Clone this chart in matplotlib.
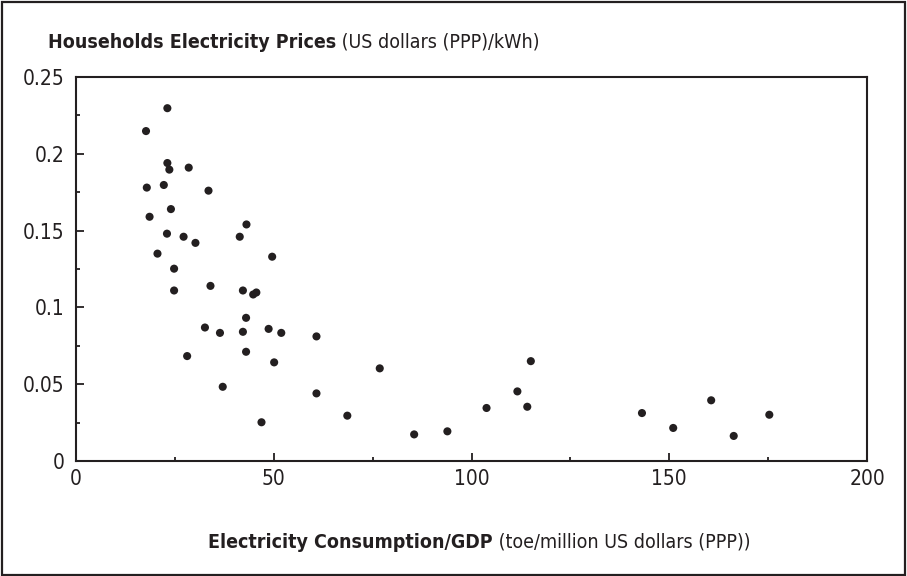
import matplotlib
matplotlib.use("Agg")
import matplotlib.pyplot as plt
from matplotlib.patches import Rectangle
from matplotlib.ticker import MultipleLocator

plt.rcParams['font.family'] = ['DejaVu Sans']
plt.rcParams['font.stretch'] = 'condensed'

# electricity consumption / GDP (toe per million US$ PPP)
consumption = [23.1, 17.7, 23.1, 23.6, 28.5, 17.9, 22.2, 33.5, 18.6, 24.0,
               43.1, 23.0, 27.2, 30.2, 41.4, 20.6, 49.6, 24.8, 24.8, 34.0,
               42.2, 44.8, 45.6, 32.6, 36.4, 42.2, 43.0, 48.7, 51.9, 60.8,
               28.1, 43.0, 50.1, 37.1, 60.8, 46.9, 68.6, 76.8, 85.5, 93.9,
               103.8, 111.6, 114.1, 115.0, 143.1, 151.0, 160.6, 166.3, 175.3]
# household electricity price (US$ PPP per kWh)
price = [0.2297, 0.2148, 0.194, 0.1897, 0.191, 0.178, 0.1797, 0.176, 0.159, 0.164,
         0.154, 0.148, 0.146, 0.142, 0.146, 0.135, 0.133, 0.1252, 0.111, 0.114,
         0.111, 0.1084, 0.1097, 0.0869, 0.0834, 0.0841, 0.0932, 0.086, 0.0834, 0.0811,
         0.0683, 0.0711, 0.0642, 0.0483, 0.044, 0.0252, 0.0295, 0.0603, 0.0173, 0.0193,
         0.0345, 0.0453, 0.0353, 0.065, 0.0312, 0.0215, 0.0395, 0.0163, 0.0301]

xticks = [0, 50, 100, 150, 200]
xtick_labels = ['0', '50', '100', '150', '200']
yticks = [0, 0.05, 0.1, 0.15, 0.2, 0.25]
ytick_labels = ['0', '0.05', '0.1', '0.15', '0.2', '0.25']

ink = '#231f20'

fig = plt.figure(figsize=(9.07, 5.76), dpi=100)
ax = fig.add_axes([0.0838, 0.1997, 0.8721, 0.6666])

ax.scatter(consumption, price, s=34, color=ink, edgecolors='none', zorder=3)

ax.set_xlim(0, 200)
ax.set_ylim(0, 0.25)
ax.set_xticks(xticks)
ax.set_xticklabels(xtick_labels)
ax.set_yticks(yticks)
ax.set_yticklabels(ytick_labels)
ax.xaxis.set_minor_locator(MultipleLocator(25))
ax.yaxis.set_minor_locator(MultipleLocator(0.025))

ax.tick_params(which='major', direction='in', length=6, width=1.3, color=ink,
               labelsize=15, labelcolor=ink)
ax.tick_params(axis='x', which='major', pad=6)
ax.tick_params(axis='y', which='major', pad=8.5)
ax.tick_params(which='minor', direction='in', length=3, width=1.3, color=ink)
for sp in ax.spines.values():
    sp.set_color(ink)
    sp.set_linewidth(1.5)

# title and x label: bold part + regular part
t1 = fig.text(48 / 907, 1 - 48 / 576, 'Households Electricity Prices', fontsize=14,
              fontweight='bold', color=ink, va='baseline', ha='left')
t2 = fig.text(0, 1 - 48 / 576, ' (US dollars (PPP)/kWh)', fontsize=14,
              color=ink, va='baseline', ha='left')
x1 = fig.text(208 / 907, 1 - 548 / 576, 'Electricity Consumption/GDP', fontsize=14,
              fontweight='bold', color=ink, va='baseline', ha='left')
x2 = fig.text(0, 1 - 548 / 576, ' (toe/million US dollars (PPP))', fontsize=14,
              color=ink, va='baseline', ha='left')

fig.canvas.draw()
r = fig.canvas.get_renderer()
t2.set_x(t1.get_window_extent(r).x1 / fig.bbox.width)
x2.set_x(x1.get_window_extent(r).x1 / fig.bbox.width)

fig.patches.append(Rectangle((0.002, 0.002), 0.996, 0.995, transform=fig.transFigure,
                             fill=False, edgecolor=ink, linewidth=1.6))

fig.savefig('out.png', dpi=100)
